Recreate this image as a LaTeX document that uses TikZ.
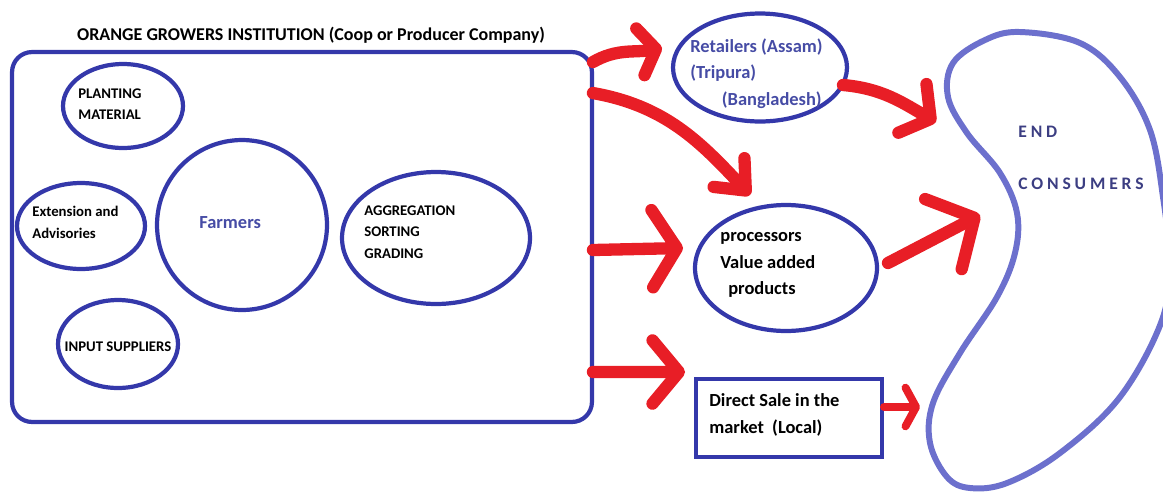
\documentclass[tikz,border=0pt]{standalone}
\usepackage{fontspec}
\setmainfont{Carlito}
\newfontfamily\spacedfont[LetterSpace=22]{Carlito}
\usetikzlibrary{shapes.geometric,arrows.meta}

\definecolor{ogblue}{RGB}{52,56,170}
\definecolor{txtblue}{RGB}{70,76,165}
\definecolor{blobblue}{RGB}{108,112,205}
\definecolor{flowred}{RGB}{232,30,38}
\definecolor{endblue}{RGB}{60,62,130}

\begin{document}
\begin{tikzpicture}[x=0.02cm, y=0.02cm,
	oval/.style={ellipse, draw=ogblue, line width=2.4pt, inner sep=0pt, outer sep=0pt},
	box/.style={rectangle, draw=ogblue, line width=2.4pt, inner sep=0pt, outer sep=0pt},
	txt/.style={font=\bfseries\fontsize{8.4}{12.3}\selectfont, align=left, inner sep=0pt, anchor=west},
	rtxt/.style={txt, font=\bfseries\fontsize{10.5}{15}\selectfont},
	flow/.style={draw=flowred, line width=7pt, line cap=round},
	barb/.style 2 args={-{Straight Barb[length=#1, width=#2, round]}}]
\useasboundingbox (0,0) rectangle (1163,-491);

% growers institution
\node[font=\bfseries\fontsize{10.25}{12.5}\selectfont, inner sep=0pt] (title) at (311,-35)
	{ORANGE GROWERS INSTITUTION (Coop or Producer Company)};
\node[box, rounded corners=0.4cm, minimum width=11.6cm, minimum height=7.4cm] (org) at (302,-237) {};

\node[oval, minimum width=2.4cm, minimum height=1.68cm] (plant) at (123,-106) {};
\node[txt] (plantT) at ([shift={(-45,2)}]plant.center) {PLANTING\\MATERIAL};

\node[oval, minimum width=2.56cm, minimum height=1.72cm] (ext) at (81,-226) {};
\node[txt] (extT) at ([shift={(-49,3.5)}]ext.center) {Extension and\\Advisories};

\node[oval, minimum width=3.4cm, minimum height=3.4cm] (farm) at (242,-225) {};
\node[txt, text=txtblue, font=\bfseries\fontsize{10.5}{14}\selectfont] (farmT) at ([shift={(-43,2)}]farm.center) {Farmers};

\node[oval, minimum width=3.76cm, minimum height=2.64cm] (agg) at (436,-238) {};
\node[txt] (aggT) at ([shift={(-72,6)}]agg.center) {AGGREGATION\\SORTING\\GRADING};

\node[oval, minimum width=2.4cm, minimum height=1.76cm] (inp) at (118,-344) {};
\node[txt, anchor=center] (inpT) at ([yshift=-0.06cm]inp.center) {INPUT SUPPLIERS};

% market channels
\node[oval, minimum width=3.48cm, minimum height=2.16cm] (ret) at (760,-67.5) {};
\node[rtxt, text=txtblue] (retT) at ([shift={(-70,-6)}]ret.center)
	{Retailers (Assam)\\(Tripura)\\\hspace*{18pt}(Bangladesh)};

\node[oval, minimum width=3.64cm, minimum height=2.52cm] (proc) at (786,-268) {};
\node[rtxt] (procT) at ([shift={(-66,3)}]proc.center)
	{processors\\Value added\\\hspace*{4.5pt}products};

\node[box, minimum width=3.72cm, minimum height=1.56cm] (dir) at (789,-418) {};
\node[rtxt] (dirT) at ([shift={(-80,3)}]dir.center) {Direct Sale in the\\market\ \ (Local)};

% end consumers
\draw[draw=blobblue, line width=3.4pt] plot[smooth cycle, tension=0.6] coordinates {
	(1020,-32) (1080,-43) (1120,-77) (1150,-130) (1163,-197) (1169,-260) (1162,-320)
	(1120,-397) (1060,-453) (1007,-483) (970,-488) (947,-477) (930,-443) (933,-403)
	(960,-353) (997,-297) (1015,-253) (1017,-213) (1000,-173) (967,-133) (948,-97)
	(953,-63) (985,-40)};
\node[font=\spacedfont\bfseries\fontsize{10}{30}\selectfont, text=endblue, align=left,
	inner sep=0pt, anchor=west] (cons) at (1018,-158) {END\\CONSUMERS};

\coordinate (t3) at (936,-122);
\coordinate (t5) at (980,-215);
\coordinate (t7) at (920,-407);

% flows
\draw[flow, barb={9pt}{27pt}] ([shift={(1,-10)}]org.north east) to[out=30, in=190] ([shift={(-11,19.5)}]ret.west);
\draw[flow, barb={14pt}{24pt}] ([shift={(1,-41)}]org.north east) to[out=-10, in=133] ([shift={(-36,10)}]proc.north);
\draw[flow, barb={12pt}{32pt}] ([shift={(-4,-17.5)}]ret.east) to[out=-5, in=150] (t3);
\draw[flow, barb={14pt}{44pt}] ([shift={(1,-13)}]org.east) -- ([shift={(-12,20)}]proc.west);
\draw[flow, barb={20pt}{45pt}] ([shift={(11,5)}]proc.east) -- (t5);
\draw[flow, barb={15pt}{36pt}] ([shift={(1,50)}]org.south east) -- ([shift={(-11,7)}]dir.north west);
\draw[flow, line width=4.5pt, barb={6pt}{22pt}] ([shift={(2,11)}]dir.east) -- (t7);
\end{tikzpicture}
\end{document}
